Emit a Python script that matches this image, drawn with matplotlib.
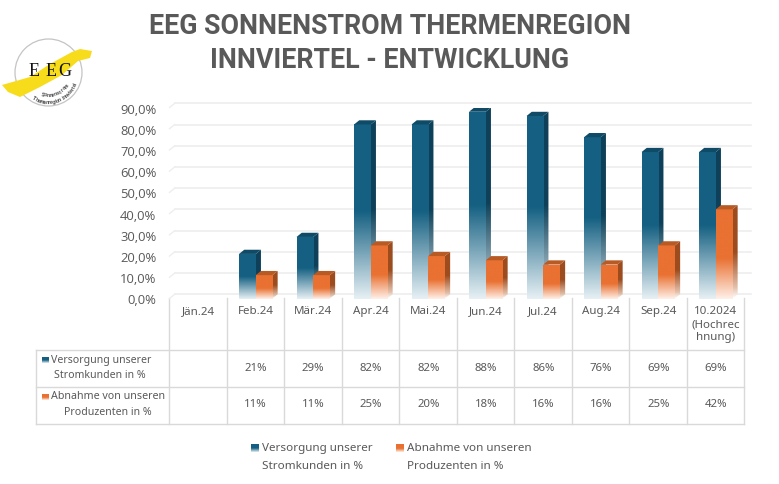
import numpy as np
import matplotlib
matplotlib.use("Agg")
import matplotlib.pyplot as plt
from matplotlib.colors import LinearSegmentedColormap
from matplotlib.patches import Circle, Polygon

categories = ["Jän.24", "Feb.24", "Mär.24", "Apr.24", "Mai.24", "Jun.24", "Jul.24",
              "Aug.24", "Sep.24", "10.2024\n(Hochrec\nhnung)"]
versorgung = [None, 21, 29, 82, 82, 88, 86, 76, 69, 69]
abnahme = [None, 11, 11, 25, 20, 18, 16, 16, 25, 42]
y_ticks = [0, 10, 20, 30, 40, 50, 60, 70, 80, 90]
y_labels = ["0,0%", "10,0%", "20,0%", "30,0%", "40,0%", "50,0%", "60,0%", "70,0%", "80,0%", "90,0%"]
versorgung_label = ["Versorgung unserer", "Stromkunden in %"]
abnahme_label = ["Abnahme von unseren", "Produzenten in %"]

GREY = "#595959"
BODY_FONT = "Noto Sans"
W, H = 779, 485

fig = plt.figure(figsize=(W / 100, H / 100), dpi=100)

# overlay in pixel coordinates for title, logo, table frame and legend
bg = fig.add_axes([0, 0, 1, 1])
bg.set_xlim(0, W)
bg.set_ylim(H, 0)
bg.axis("off")

left, right, y0, y90 = 169.5, 744.5, 299.5, 108.5
ax = fig.add_axes([left / W, 1 - y0 / H, (right - left) / W, (y0 - y90) / H])
ax.patch.set_alpha(0)
for s in ax.spines.values():
    s.set_visible(False)

# depth of the fake 3d look, in data units
dx = 5.2 / 57.5
dy = 4.2 / ((y0 - y90) / 90)
bar_w = 16.7 / 57.5

blue_cmap = LinearSegmentedColormap.from_list("b", [(0, "#e6f0f4"), (0.5, "#156082"), (1, "#156082")])
blue_side = LinearSegmentedColormap.from_list("bs", [(0, "#ffffff"), (0.1, "#a9c0cb"), (0.5, "#0e4159"), (1, "#0e4159")])
orange_cmap = LinearSegmentedColormap.from_list("o", [(0, "#fff0e8"), (0.45, "#e97132"), (1, "#e97132")])
orange_side = LinearSegmentedColormap.from_list("os", [(0, "#ffffff"), (0.12, "#e3c0aa"), (0.5, "#9c4c1f"), (1, "#9c4c1f")])
grad = np.linspace(0, 1, 128).reshape(-1, 1)


def draw_bar(x, v, cmap, side_cmap, top_color, z):
    x1 = x + bar_w
    ax.imshow(grad, cmap=side_cmap, origin="lower", aspect="auto", zorder=z, vmin=0, vmax=1,
              extent=[x1, x1 + dx, 0, v + dy]).set_clip_path(
        Polygon([(x1, 0), (x1 + dx, dy), (x1 + dx, v + dy), (x1, v)], transform=ax.transData))
    ax.imshow(grad, cmap=cmap, origin="lower", aspect="auto", zorder=z, vmin=0, vmax=1,
              extent=[x, x1, 0, v])
    ax.add_patch(Polygon([(x, v), (x1, v), (x1 + dx, v + dy), (x + dx, v + dy)],
                         facecolor=top_color, edgecolor="none", zorder=z))


# gridlines sit on the back wall
for t in y_ticks:
    ax.plot([-0.5 + dx, 9.5 + 1.25 * dx], [t + dy, t + dy], color="#eeeeee", lw=1.2, zorder=1, clip_on=False)
    ax.plot([-0.5, -0.5 + dx], [t, t + dy], color="#eeeeee", lw=1.0, zorder=1, clip_on=False)

for i, (a, b) in enumerate(zip(versorgung, abnahme)):
    if a is None:
        continue
    draw_bar(i - bar_w, a, blue_cmap, blue_side, "#0f4a66", 3)
    draw_bar(i, b, orange_cmap, orange_side, "#b85a24", 4)

ax.set_xlim(-0.5, 9.5)
ax.set_ylim(0, 90)
ax.set_yticks(y_ticks, y_labels, fontname="Open Sans", fontsize=9.4, color=GREY)
ax.set_xticks(range(len(categories)), categories, fontname=BODY_FONT, fontsize=8.3, color=GREY, linespacing=1.25)
ax.tick_params(axis="both", length=0)
ax.tick_params(axis="y", pad=9.5)
ax.tick_params(axis="x", pad=5)

# table frame
line = dict(color="#d9d9d9", lw=1.0, zorder=2)
col_w = (right - left) / 10
bg.plot([36.5, right], [350.5, 350.5], **line)
bg.plot([36.5, right], [387.5, 387.5], **line)
bg.plot([36.5, right], [424.5, 424.5], **line)
bg.plot([36.5, 36.5], [350.5, 424.5], **line)
for i in range(11):
    xl = left + i * col_w
    bg.plot([xl, xl], [299, 424.5], **line)

text_kw = dict(fontname=BODY_FONT, color=GREY, ha="center", va="center")
for i, (a, b) in enumerate(zip(versorgung, abnahme)):
    xc = left + (i + 0.5) * col_w
    if a is not None:
        bg.text(xc, 369, f"{a}%", fontsize=8.2, **text_kw)
        bg.text(xc, 405, f"{b}%", fontsize=8.2, **text_kw)


def swatch(x, y, w, h, cmap):
    bg.imshow(grad, cmap=cmap, origin="lower", aspect="auto", extent=[x, x + w, y + h, y], zorder=3)


swatch(42, 358, 7, 6, blue_cmap)
swatch(42, 395, 7, 6, orange_cmap)
bg.text(51, 361, versorgung_label[0], fontsize=7.6, fontname=BODY_FONT, color=GREY, va="center")
bg.text(54, 376, versorgung_label[1], fontsize=7.6, fontname=BODY_FONT, color=GREY, va="center")
bg.text(51, 397, abnahme_label[0], fontsize=7.7, fontname=BODY_FONT, color=GREY, va="center")
bg.text(64, 413, abnahme_label[1], fontsize=7.6, fontname=BODY_FONT, color=GREY, va="center")

# legend
swatch(251, 445, 8, 8, blue_cmap)
swatch(396, 445, 8, 8, orange_cmap)
bg.text(262, 448.5, versorgung_label[0], fontsize=8.4, fontname=BODY_FONT, color=GREY, va="center")
bg.text(262, 467, versorgung_label[1], fontsize=8.4, fontname=BODY_FONT, color=GREY, va="center")
bg.text(407, 448.5, abnahme_label[0], fontsize=8.4, fontname=BODY_FONT, color=GREY, va="center")
bg.text(407, 467, abnahme_label[1], fontsize=8.4, fontname=BODY_FONT, color=GREY, va="center")

# title
bg.text(390, 27, "EEG SONNENSTROM THERMENREGION", fontname="Roboto", fontweight="bold", fontsize=19.3,
        color=GREY, ha="center", va="center")
bg.text(390, 61, "INNVIERTEL - ENTWICKLUNG", fontname="Roboto", fontweight="bold", fontsize=19.3,
        color=GREY, ha="center", va="center")

# logo
bg.add_patch(Circle((48.5, 73.5), 33.5, fill=False, ec="#c4c4c4", lw=0.9, zorder=3))
bg.add_patch(Polygon([(2, 86), (30, 78), (50, 65), (72, 53), (80, 50), (92, 52), (90, 59), (78, 62),
                      (62, 76), (40, 88), (20, 98), (8, 93)], fc="#f7dc1c", ec="none", zorder=4))
for x_e, ch in zip([34.5, 51, 65], "EEG"):
    bg.text(x_e, 71, ch, fontname="Liberation Serif", fontsize=13, color="#111111",
            ha="center", va="center", zorder=5)
for text, rad, a0, a1 in [("Sonnenstrom", 22, 106, 35), ("Thermenregion Innviertel", 29, 119, 20)]:
    angs = np.linspace(a0, a1, len(text))
    for ch, ang in zip(text, angs):
        bg.text(48.5 + rad * np.cos(np.radians(ang)), 73.5 + rad * np.sin(np.radians(ang)), ch,
                fontsize=3.6, fontname="Liberation Sans", fontweight="bold", color="#444444",
                rotation=90 - ang, ha="center", va="center", zorder=5)

bg.set_xlim(0, W)
bg.set_ylim(H, 0)
fig.savefig("out.png", dpi=100)
